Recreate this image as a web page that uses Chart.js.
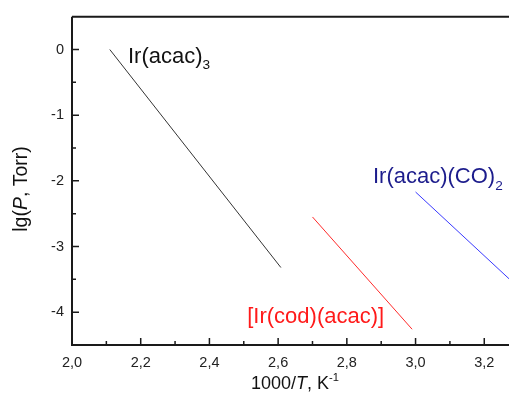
<!DOCTYPE html>
<html>
<head>
<meta charset="utf-8">
<script src="https://cdn.jsdelivr.net/npm/chart.js@4/dist/chart.umd.min.js"></script>
<style>
  html, body { margin: 0; padding: 0; background: #fff; }
  #wrap { width: 509px; height: 399px; }
</style>
</head>
<body>
<div id="wrap"><canvas id="c"></canvas></div>
<script>
// data
const acacX = [2.11, 2.608];
const acacY = [0, -3.32];
const codX = [2.70, 2.99];
const codY = [-2.55, -4.26];
const coX = [3.00, 3.28];
const coY = [-2.17, -3.53];

const xTicks = [2.0, 2.2, 2.4, 2.6, 2.8, 3.0, 3.2];
const xMinor = [2.1, 2.3, 2.5, 2.7, 2.9, 3.1];
const yTicks = [0, -1, -2, -3, -4];
const yMinor = [-0.5, -1.5, -2.5, -3.5];

const FONT = '"Liberation Sans", Arial, sans-serif';

const toPts = (xs, ys) => xs.map((x, i) => ({ x: x, y: ys[i] }));

// text pieces: [text, style] where style is '', 'i', 'sub', 'sup'
function drawRich(ctx, parts, x, y, size, color) {
    ctx.save();
    ctx.fillStyle = color;
    ctx.textBaseline = 'alphabetic';
    ctx.textAlign = 'left';
    let cx = x;
    parts.forEach(p => {
        let s = size, dy = 0, st = '';
        if (p[1] === 'sub') { s = size * 0.62; dy = size * 0.28; }
        if (p[1] === 'sup') { s = size * 0.62; dy = -size * 0.45; }
        if (p[1] === 'i') st = 'italic ';
        ctx.font = st + s + 'px ' + FONT;
        ctx.fillText(p[0], cx, y + dy);
        cx += ctx.measureText(p[0]).width;
    });
    ctx.restore();
    return cx - x;
}

function richWidth(ctx, parts, size) {
    let w = 0;
    ctx.save();
    parts.forEach(p => {
        let s = (p[1] === 'sub' || p[1] === 'sup') ? size * 0.62 : size;
        ctx.font = (p[1] === 'i' ? 'italic ' : '') + s + 'px ' + FONT;
        w += ctx.measureText(p[0]).width;
    });
    ctx.restore();
    return w;
}

const frame = {
    id: 'frame',
    afterDraw(chart) {
        const ctx = chart.ctx;
        const a = chart.chartArea;
        const xs = chart.scales.x, ys = chart.scales.y;
        ctx.save();
        ctx.strokeStyle = '#1a1a1a';
        ctx.lineWidth = 2;
        ctx.beginPath();
        ctx.moveTo(a.left, a.top); ctx.lineTo(a.left, a.bottom); ctx.lineTo(a.right, a.bottom);
        ctx.moveTo(a.left, a.top); ctx.lineTo(a.right, a.top);
        ctx.stroke();
        ctx.lineWidth = 1.5;
        ctx.beginPath();
        xTicks.forEach(v => { const px = xs.getPixelForValue(v); ctx.moveTo(px, a.bottom); ctx.lineTo(px, a.bottom - 7); });
        xMinor.forEach(v => { const px = xs.getPixelForValue(v); ctx.moveTo(px, a.bottom); ctx.lineTo(px, a.bottom - 4); });
        yTicks.forEach(v => { const py = ys.getPixelForValue(v); ctx.moveTo(a.left, py); ctx.lineTo(a.left + 7, py); });
        yMinor.forEach(v => { const py = ys.getPixelForValue(v); ctx.moveTo(a.left, py); ctx.lineTo(a.left + 4, py); });
        ctx.stroke();
        ctx.restore();

        // series labels
        drawRich(ctx, [['Ir(acac)', ''], ['3', 'sub']], xs.getPixelForValue(2.163), ys.getPixelForValue(-0.2), 22, '#111');
        drawRich(ctx, [['[Ir(cod)(acac)]', '']], xs.getPixelForValue(2.51), ys.getPixelForValue(-4.16), 22, '#ff1a1a');
        drawRich(ctx, [['Ir(acac)(CO)', ''], ['2', 'sub']], xs.getPixelForValue(2.876), ys.getPixelForValue(-2.04), 22, '#1c1c8c');

        // axis titles
        const xt = [['1000/', ''], ['T', 'i'], [', K', ''], ['-1', 'sup']];
        const xw = richWidth(ctx, xt, 18);
        drawRich(ctx, xt, 295 - xw / 2, 389, 18, '#111');

        const yt = [['lg(', ''], ['P', 'i'], [', Torr)', '']];
        const yw = richWidth(ctx, yt, 19.5);
        ctx.save();
        ctx.translate(27, 189);
        ctx.rotate(-Math.PI / 2);
        drawRich(ctx, yt, -yw / 2, 0, 19.5, '#111');
        ctx.restore();
    }
};

new Chart(document.getElementById('c'), {
    type: 'line',
    data: {
        datasets: [
            { label: 'Ir(acac)3', data: toPts(acacX, acacY), borderColor: '#333333', borderWidth: 1, pointRadius: 0 },
            { label: '[Ir(cod)(acac)]', data: toPts(codX, codY), borderColor: '#ff2a2a', borderWidth: 1, pointRadius: 0 },
            { label: 'Ir(acac)(CO)2', data: toPts(coX, coY), borderColor: '#3a3aff', borderWidth: 1, pointRadius: 0 }
        ]
    },
    options: {
        responsive: true,
        maintainAspectRatio: false,
        animation: false,
        layout: { padding: { top: 13, right: 0, left: 0, bottom: 0 } },
        plugins: { legend: { display: false }, tooltip: { enabled: false } },
        scales: {
            x: {
                type: 'linear', min: 2.0, max: 3.272,
                grid: { display: false, drawTicks: false },
                border: { display: false },
                afterBuildTicks: s => { s.ticks = xTicks.map(v => ({ value: v })); },
                afterFit: s => { s.height = 54; },
                ticks: {
                    padding: 9, color: '#222', font: { family: FONT, size: 14.5 },
                    maxRotation: 0, autoSkip: false,
                    callback: v => v.toFixed(1).replace('.', ',')
                }
            },
            y: {
                type: 'linear', min: -4.5, max: 0.5,
                grid: { display: false, drawTicks: false },
                border: { display: false },
                afterBuildTicks: s => { s.ticks = yTicks.map(v => ({ value: v })); },
                afterFit: s => { s.width = 72; },
                ticks: {
                    padding: 8, color: '#222', font: { family: FONT, size: 14.5 },
                    autoSkip: false,
                    callback: v => String(v)
                }
            }
        }
    },
    plugins: [frame]
});
</script>
</body>
</html>
